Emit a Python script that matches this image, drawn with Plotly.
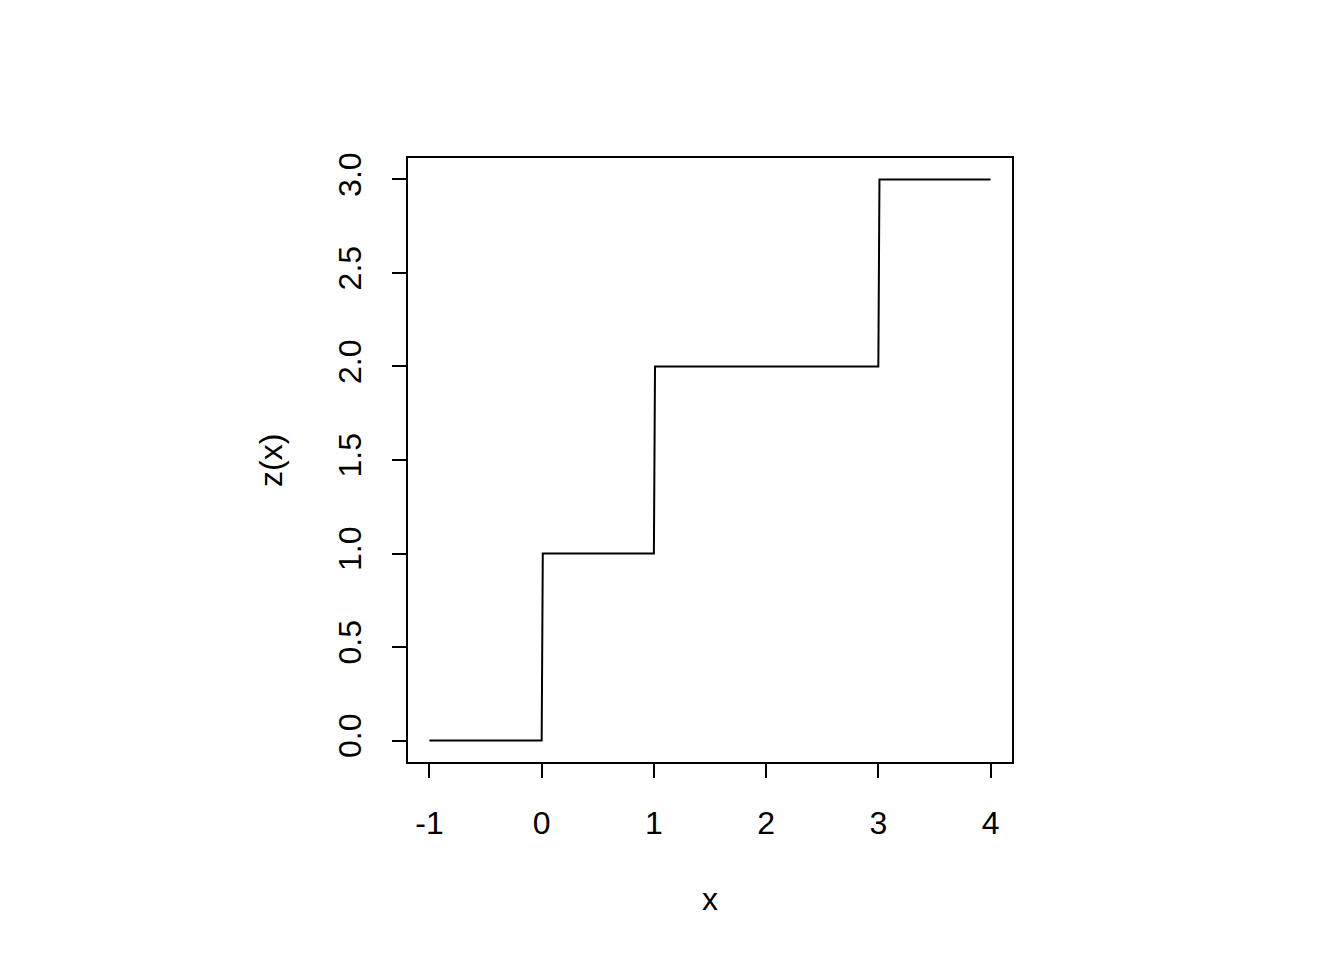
import plotly.graph_objects as go

# step function z(x), sampled at the breakpoints
x_vals = [-1, 0, 0.01, 1, 1.01, 3, 3.01, 4]
z_vals = [0, 0, 1, 1, 2, 2, 3, 3]

x_ticks = [-1, 0, 1, 2, 3, 4]
x_tick_labels = ["-1", "0", "1", "2", "3", "4"]
y_ticks = [0.0, 0.5, 1.0, 1.5, 2.0, 2.5, 3.0]
y_tick_labels = ["0.0", "0.5", "1.0", "1.5", "2.0", "2.5", "3.0"]

FONT = "Liberation Sans, Arial, Helvetica, sans-serif"

fig = go.Figure()
fig.add_trace(go.Scatter(x=x_vals, y=z_vals, mode="lines",
                         line=dict(color="black", width=2), showlegend=False,
                         hoverinfo="skip"))

fig.update_layout(
    width=1344, height=960,
    margin=dict(l=399, r=339, t=149, b=205),
    paper_bgcolor="white", plot_bgcolor="white",
    font=dict(family=FONT, size=32, color="black"),
    xaxis=dict(range=[-1.2, 4.2], tickmode="array", tickvals=x_ticks,
               ticktext=x_tick_labels, ticks="outside", ticklen=14,
               tickwidth=1.5, tickcolor="black", showgrid=False,
               zeroline=False, showline=False, ticklabelstandoff=18,
               tickfont=dict(size=32)),
    yaxis=dict(range=[-0.12, 3.12], tickmode="array", tickvals=y_ticks,
               ticktext=y_tick_labels, ticks="outside", ticklen=14,
               tickwidth=1.5, tickcolor="black", showgrid=False,
               zeroline=False, showline=False, tickangle=-90,
               ticklabelstandoff=18, tickfont=dict(size=32)),
    shapes=[dict(type="rect", xref="paper", yref="paper", x0=0, y0=0,
                 x1=1, y1=1, line=dict(color="black", width=2))],
    annotations=[
        dict(text="x", xref="paper", yref="paper", x=0.5, y=-0.2237,
             showarrow=False, font=dict(size=32), xanchor="center",
             yanchor="middle"),
        dict(text="z(x)", xref="paper", yref="paper", x=-0.2246, y=0.5,
             showarrow=False, font=dict(size=32), textangle=-90,
             xanchor="center", yanchor="middle"),
    ],
)

fig.write_html("out.html")
